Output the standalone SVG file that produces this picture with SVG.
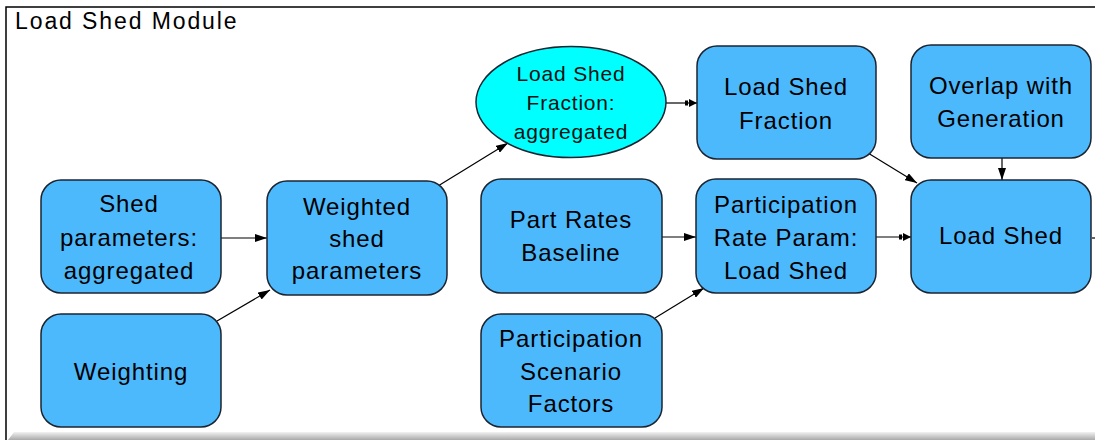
<svg xmlns="http://www.w3.org/2000/svg" width="1095" height="440" viewBox="0 0 1095 440">
<style>
.box{fill:#4db9fd;stroke:#1c2430;stroke-width:1.5}
.ell{fill:#00ffff;stroke:#1c2430;stroke-width:1.5}
.t{font-family:"Liberation Sans",Arial,sans-serif;font-size:24px;letter-spacing:0.9px;text-anchor:middle;fill:#000}
.te{font-family:"Liberation Sans",Arial,sans-serif;font-size:21px;letter-spacing:0.8px;text-anchor:middle;fill:#111}
.title{font-family:"Liberation Sans",Arial,sans-serif;font-size:23px;letter-spacing:1.9px;fill:#000}
.c{stroke:#000;stroke-width:1.2;fill:none}
</style>
<defs>
<linearGradient id="bar" x1="0" y1="0" x2="0" y2="1">
<stop offset="0" stop-color="#f2f2f2"/>
<stop offset="1" stop-color="#a9a9a9"/>
</linearGradient>
<marker id="a" viewBox="0 0 12 8" refX="12" refY="4" markerWidth="12" markerHeight="8" orient="auto" markerUnits="userSpaceOnUse">
<path d="M0,0 L12,4 L0,8 z" fill="#000"/>
</marker>
<marker id="b" viewBox="0 0 12 8" refX="12" refY="4" markerWidth="12" markerHeight="8" orient="auto" markerUnits="userSpaceOnUse">
<path d="M0,1.5 h3 v5 h-3 z M4,0 L12,4 L4,8 z" fill="#000"/>
</marker>
</defs>
<rect width="1095" height="440" fill="#fff"/>
<path d="M6,440 V7 H1095" fill="none" stroke="#000" stroke-width="1.5"/>
<path d="M14,432 H1095 V440 H8 z" fill="url(#bar)"/>
<text class="title" x="15" y="29">Load Shed Module</text>

<g id="connectors">
<line class="c" x1="221" y1="238" x2="267" y2="238" marker-end="url(#a)"/>
<line class="c" x1="217" y1="321" x2="270" y2="290" marker-end="url(#a)"/>
<line class="c" x1="438" y1="186" x2="508" y2="143" marker-end="url(#a)"/>
<line class="c" x1="666" y1="103" x2="697" y2="103" marker-end="url(#b)"/>
<line class="c" x1="662" y1="237" x2="696" y2="237" marker-end="url(#a)"/>
<line class="c" x1="655" y1="318" x2="704" y2="288" marker-end="url(#a)"/>
<line class="c" x1="876" y1="237" x2="911" y2="237" marker-end="url(#b)"/>
<line class="c" x1="868" y1="153" x2="917" y2="183" marker-end="url(#a)"/>
<line class="c" x1="1002" y1="158" x2="1002" y2="180" marker-end="url(#a)"/>
<line class="c" x1="1092" y1="238" x2="1095" y2="238"/>
</g>

<g id="shed-params">
<rect class="box" x="41" y="180" width="180" height="113" rx="20"/>
<text class="t"><tspan x="129" y="212">Shed</tspan><tspan x="129" y="246">parameters:</tspan><tspan x="129" y="279">aggregated</tspan></text>
</g>
<g id="weighting">
<rect class="box" x="41" y="314" width="180" height="113" rx="20"/>
<text class="t" x="131" y="380">Weighting</text>
</g>
<g id="weighted-shed">
<rect class="box" x="267" y="181" width="180" height="114" rx="20"/>
<text class="t"><tspan x="357" y="215">Weighted</tspan><tspan x="357" y="247">shed</tspan><tspan x="357" y="279">parameters</tspan></text>
</g>
<g id="lsf-aggregated">
<ellipse class="ell" cx="571" cy="102" rx="95" ry="55.5"/>
<text class="te"><tspan x="571" y="81">Load Shed</tspan><tspan x="571" y="110">Fraction:</tspan><tspan x="571" y="139">aggregated</tspan></text>
</g>
<g id="load-shed-fraction">
<rect class="box" x="697" y="46" width="179" height="113" rx="20"/>
<text class="t"><tspan x="786" y="95">Load Shed</tspan><tspan x="786" y="129">Fraction</tspan></text>
</g>
<g id="overlap">
<rect class="box" x="911" y="45" width="180" height="113" rx="20"/>
<text class="t"><tspan x="1001" y="94">Overlap with</tspan><tspan x="1001" y="127">Generation</tspan></text>
</g>
<g id="part-rates">
<rect class="box" x="481" y="179" width="181" height="114" rx="20"/>
<text class="t"><tspan x="571" y="228">Part Rates</tspan><tspan x="571" y="261">Baseline</tspan></text>
</g>
<g id="part-rate-param">
<rect class="box" x="696" y="179" width="180" height="114" rx="20"/>
<text class="t"><tspan x="786" y="213">Participation</tspan><tspan x="786" y="246">Rate Param:</tspan><tspan x="786" y="279">Load Shed</tspan></text>
</g>
<g id="scenario">
<rect class="box" x="481" y="314" width="181" height="113" rx="20"/>
<text class="t"><tspan x="571" y="347">Participation</tspan><tspan x="571" y="380">Scenario</tspan><tspan x="571" y="412">Factors</tspan></text>
</g>
<g id="load-shed">
<rect class="box" x="911" y="180" width="180" height="113" rx="20"/>
<text class="t" x="1001" y="244">Load Shed</text>
</g>
</svg>
